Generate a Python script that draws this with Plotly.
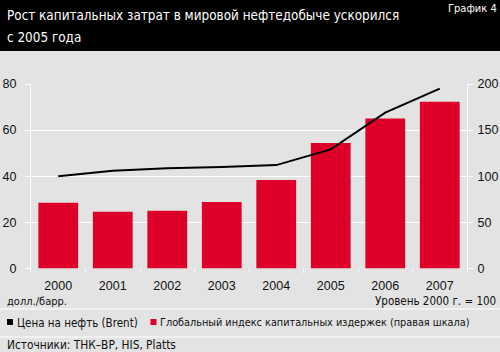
import plotly.graph_objects as go

years = ["2000", "2001", "2002", "2003", "2004", "2005", "2006", "2007"]
bars_left = [28.5, 24.5, 25.0, 28.8, 38.3, 54.4, 65.0, 72.3]      # left scale
line_right = [100, 105.8, 108.7, 109.8, 112, 129, 169, 195]        # right scale

title_lines = ["Рост капитальных затрат в мировой нефтедобыче ускорился", "с 2005 года"]
chart_no = "График 4"
left_unit = "долл./барр."
right_unit = "Уровень 2000 г. = 100"
legend_black = "Цена на нефть (Brent)"
legend_red = "Глобальный индекс капитальных издержек (правая шкала)"
source = "Источники: ТНК–ВР, HIS, Platts"

W, H = 500, 352
L, R, T, B = 31, 33, 84, 79
BG = "#e3e3e3"
RED = "#df0029"
NARROW = "DejaVu Sans Condensed, Liberation Sans Narrow, Arial Narrow, Liberation Sans, sans-serif"
REG = "Liberation Sans, Arial, sans-serif"

def px(x):
    return (x - L) / (W - L - R)

def py(y):
    return (H - B - y) / (H - T - B)

fig = go.Figure()
fig.add_trace(go.Bar(x=years, y=bars_left, marker=dict(color=RED, line=dict(width=0)),
                     width=0.73, yaxis="y", showlegend=False))
fig.add_trace(go.Scatter(x=years, y=line_right, mode="lines", line=dict(color="black", width=2),
                         yaxis="y2", showlegend=False))

axis_common = dict(showline=True, linecolor="white", linewidth=1, ticks="outside", ticklen=5,
                   tickcolor="white", tickfont=dict(family=REG, size=12.5, color="#111"),
                   showgrid=True, gridcolor="white", gridwidth=1, automargin=False,
                   zeroline=True, zerolinecolor=BG, zerolinewidth=1)

fig.update_layout(
    width=W, height=H, margin=dict(l=L, r=R, t=T, b=B, autoexpand=False),
    paper_bgcolor=BG, plot_bgcolor=BG,
    xaxis=dict(type="category", tickson="boundaries", ticks="inside", ticklen=4, tickcolor="white",
               showline=False, showgrid=False, range=[-0.5, 7.5], automargin=False,
               ticklabelstandoff=3,
               tickfont=dict(family=REG, size=12.5, color="#111")),
    yaxis=dict(range=[-2.04, 80], tickvals=[0, 20, 40, 60, 80], side="left",
               ticklabelstandoff=6, **axis_common),
    yaxis2=dict(range=[-5.1, 200], tickvals=[0, 50, 100, 150, 200], side="right", overlaying="y",
                ticklabelstandoff=2, **axis_common),
)

shapes = [
    dict(type="rect", xref="paper", yref="paper", x0=px(0), x1=px(W), y0=py(0), y1=py(51),
         fillcolor="black", line=dict(width=0), layer="above"),
    dict(type="line", xref="paper", yref="paper", x0=px(0), x1=px(W), y0=py(309), y1=py(309),
         line=dict(color="white", width=1)),
    dict(type="line", xref="paper", yref="paper", x0=px(0), x1=px(W), y0=py(337), y1=py(337),
         line=dict(color="white", width=1)),
    dict(type="rect", xref="paper", yref="paper", x0=px(7), x1=px(13), y0=py(319), y1=py(325),
         fillcolor="black", line=dict(width=0)),
    dict(type="rect", xref="paper", yref="paper", x0=px(150.5), x1=px(156.5), y0=py(319), y1=py(325),
         fillcolor=RED, line=dict(width=0)),
]
fig.update_layout(shapes=shapes)

def ann(text, x, y, size, color="#111", family=NARROW, xanchor="left"):
    fig.add_annotation(text=text, xref="paper", yref="paper", x=px(x), y=py(y), showarrow=False,
                       xanchor=xanchor, yanchor="middle", borderpad=0,
                       font=dict(family=family, size=size, color=color))

ann(title_lines[0], 6, 15, 13.4, color="white")
ann(title_lines[1], 6, 37.5, 13.4, color="white")
ann(chart_no, 498, 8, 11, color="white", xanchor="right")
ann(left_unit, 6, 301, 11)
ann(right_unit, 497, 301, 11.5, xanchor="right")
ann(legend_black, 16, 322.5, 11.5)
ann(legend_red, 159, 322.5, 10.8)
ann(source, 6, 345, 11.8)

fig.write_html("out.html")
